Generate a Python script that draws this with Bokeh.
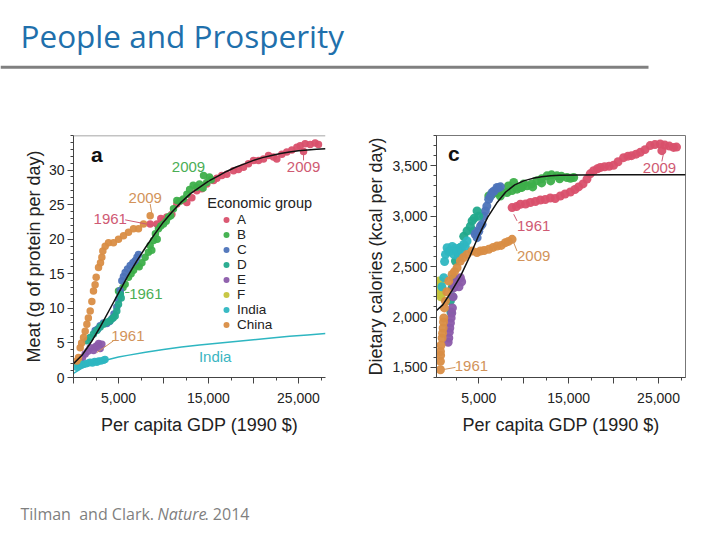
from bokeh.plotting import figure
from bokeh.layouts import column, row
from bokeh.models import Range1d, FixedTicker, Legend, LegendItem, NumeralTickFormatter, Span
from bokeh.core.properties import value
from bokeh.embed import file_html
from bokeh.resources import INLINE

FONT = "Liberation Sans"
TFONT = "Open Sans"

# ---------------- data ----------------
group_names = ["A", "B", "C", "D", "E", "F", "India", "China"]
group_colors = ["#D9506B", "#3DAF4A", "#4D73B9", "#22A98C", "#8B5BAA", "#C5C43C", "#2EB6C1", "#D98D44"]

x_ticks = [0, 5000, 10000, 15000, 20000, 25000]
x_minor = [2500, 7500, 12500, 17500, 22500, 27500]
x_tick_labels = ["", "5,000", "", "15,000", "", "25,000"]

# Panel a: meat (g of protein per day) vs GDP
meat_A_gdp = [9260, 10000, 10370, 10930, 11480, 12040, 12590, 13150, 13700, 14260, 14810, 15560, 15930, 16480,
              17040, 17780, 18330, 18890, 19440, 20000, 20560, 21110, 21670, 22220, 22590, 23150, 23700, 24260,
              24820, 25190, 25740, 26300, 26850, 27220, 25560, 8520, 9700]
meat_A_val = [22.2, 22.7, 23.2, 23.6, 25.1, 25.6, 25.3, 26.0, 27.0, 27.3, 28.0, 28.5, 28.8, 29.2,
              29.4, 29.9, 30.1, 30.4, 30.9, 31.4, 31.4, 31.6, 32.1, 31.9, 31.6, 32.3, 32.6, 32.9,
              33.3, 33.5, 33.8, 33.7, 33.9, 33.7, 32.7, 22.2, 23.0]
meat_B_gdp = [5000, 5200, 5500, 5740, 6110, 6400, 6670, 7040, 7300, 7600, 7960, 8330, 8520, 8890, 9100, 9440,
              9700, 10000, 10300, 10560, 10800, 11110, 11480, 11800, 12200, 12600, 12900, 13300, 13700, 14000,
              14400, 14800, 15100, 15300, 14450, 8700, 9300]
meat_B_val = [12.5, 12.2, 13.0, 13.5, 14.5, 15.0, 15.5, 16.2, 16.0, 16.6, 17.4, 18.1, 19.1, 19.8, 20.8, 21.5,
              21.9, 22.2, 22.6, 23.2, 23.4, 24.4, 25.6, 25.5, 25.8, 26.5, 27.2, 27.8, 27.5, 28.0,
              27.4, 28.2, 29.0, 28.6, 29.2, 18.4, 20.0]
meat_C_gdp = [2410, 2700, 2960, 3330, 3700, 4000, 4260, 4500, 4810, 5000, 5190, 5370, 5550, 5740, 6000, 6300,
              6600, 6850, 7050, 7220]
meat_C_val = [6.8, 7.0, 7.5, 7.9, 7.8, 8.1, 8.5, 9.2, 10.2, 11.3, 12.6, 14.0, 14.6, 15.2, 15.7, 16.2,
              16.6, 16.9, 17.4, 17.8]
meat_D_gdp = [1480, 1855, 2220, 2590, 2960, 3330, 3700, 4070, 4400, 4630, 4810, 5000, 5190, 5300]
meat_D_val = [5.3, 5.8, 6.3, 6.8, 7.3, 7.7, 8.0, 8.2, 8.6, 8.9, 9.6, 10.6, 12.0, 11.5]
meat_E_gdp = [740, 1000, 1300, 1600, 1850, 2220, 2400, 2590, 2800, 3150, 2960]
meat_E_val = [2.4, 2.9, 3.4, 3.8, 4.3, 3.9, 4.4, 4.6, 4.9, 4.8, 4.2]
meat_F_gdp = [450, 550, 650]
meat_F_val = [1.9, 2.1, 2.0]
meat_India_gdp = [370, 600, 900, 1110, 1400, 1650, 1850, 2100, 2350, 2590, 2800, 3050, 3330, 3500]
meat_India_val = [1.5, 1.7, 1.8, 1.9, 2.0, 2.1, 2.2, 2.1, 2.3, 2.2, 2.4, 2.4, 2.5, 2.6]
meat_China_gdp = [374, 559, 744, 900, 1115, 1300, 1485, 1650, 1855, 2040, 2220, 2400, 2520, 2780, 3000, 3150,
                  3260, 3520, 3890, 4445, 5000, 5560, 6110, 6670, 7220, 7780, 8520]
meat_China_val = [2.4, 2.9, 4.3, 5.0, 5.8, 6.7, 7.7, 8.6, 9.6, 11.0, 12.5, 13.4, 14.5, 15.9, 16.6, 17.4,
                  18.3, 19.0, 19.5, 19.5, 20.0, 20.5, 21.0, 21.5, 21.5, 22.2, 23.4]

meat_fit_gdp = [0, 1000, 2000, 3000, 4000, 5000, 6000, 7000, 8000, 9000, 10000, 11000, 12000, 13000, 14000,
                15000, 16000, 17000, 18000, 19000, 20000, 21000, 22000, 23000, 24000, 25000, 26000, 27000, 28000]
meat_fit_val = [2.0, 3.3, 5.2, 7.4, 9.8, 12.2, 14.6, 16.8, 18.8, 20.7, 22.5, 24.0, 25.4, 26.6, 27.5,
                28.4, 29.1, 29.8, 30.4, 30.9, 31.4, 31.8, 32.1, 32.4, 32.6, 32.8, 32.9, 33.0, 33.1]
india_fit_gdp = [0, 1000, 2000, 3000, 4000, 5000, 6000, 8000, 10000, 12000, 14000, 16000, 18000, 20000,
                 22000, 24000, 26000, 28000]
india_fit_val = [0.6, 1.4, 1.9, 2.3, 2.65, 2.95, 3.2, 3.65, 4.05, 4.4, 4.7, 4.95, 5.2, 5.45,
                 5.7, 5.95, 6.15, 6.35]

# Panel c: dietary calories (kcal per day) vs GDP
kcal_A_gdp = [8710, 9200, 9630, 10200, 10740, 11300, 11850, 12400, 12960, 13500, 14070, 14600, 15190, 15700,
              16110, 16600, 17040, 17400, 17780, 18200, 18520, 19000, 19500, 20000, 20500, 21110, 21600, 22000,
              22500, 22970, 23500, 24070, 24600, 25190, 25370, 25700, 26200, 26670, 27000]
kcal_A_val = [3085, 3095, 3118, 3120, 3135, 3145, 3160, 3165, 3180, 3175, 3200, 3220, 3240, 3265,
              3290, 3320, 3368, 3420, 3450, 3470, 3483, 3490, 3495, 3505, 3540, 3580, 3595, 3600,
              3615, 3633, 3660, 3700, 3710, 3716, 3650, 3705, 3695, 3682, 3685]
kcal_B_gdp = [6120, 6500, 7040, 7600, 8150, 8700, 9260, 9800, 10370, 10900, 11480, 12000, 12590, 13100, 13700,
              14200, 14810, 15200, 15560, 8890, 8300, 10000, 11000, 12000, 13000, 14000, 9630, 7400]
kcal_B_val = [3201, 3220, 3234, 3240, 3234, 3255, 3268, 3285, 3301, 3320, 3351, 3370, 3400, 3410, 3400,
              3395, 3384, 3375, 3384, 3334, 3300, 3320, 3290, 3330, 3350, 3370, 3284, 3200]
kcal_C_gdp = [4440, 4600, 4820, 5000, 5200, 5370, 5550, 5740, 5900, 6110, 6300, 6480, 6700, 7040, 7200, 7410]
kcal_C_val = [2853, 2820, 2787, 2850, 2900, 2920, 3000, 3052, 3100, 3168, 3200, 3234, 3250, 3284, 3280, 3291]
kcal_D_gdp = [1850, 2040, 2220, 2410, 2700, 2960, 3330, 3700, 4070, 4260, 4500, 4810, 5000, 1900, 2100]
kcal_D_val = [2160, 2290, 2390, 2555, 2620, 2690, 2800, 2853, 2900, 2953, 2980, 3052, 3000, 2050, 2200]
kcal_E_gdp = [1600, 1670, 1720, 1780, 1850, 1930, 2000, 2070, 2150, 2220, 2400, 2590, 2800, 2960, 3100]
kcal_E_val = [1750, 1792, 1850, 1891, 1940, 1991, 2040, 2090, 2200, 2289, 2330, 2356, 2300, 2389, 2350]
kcal_F_gdp = [600, 650, 700, 740, 780, 810, 850, 900]
kcal_F_val = [2356, 2300, 2250, 2289, 2200, 2223, 2350, 2280]
kcal_India_gdp = [900, 1110, 1200, 1300, 1480, 1650, 1850, 2050, 2220, 2400, 2590, 2800, 2960, 3150, 3330,
                  3500, 3700]
kcal_India_val = [2300, 2390, 2550, 2621, 2687, 2650, 2654, 2700, 2621, 2680, 2654, 2600, 2687, 2650, 2720,
                  2700, 2754]
kcal_China_gdp = [740, 740, 760, 740, 800, 925, 980, 1040, 1080, 1110, 1180, 1300, 1450, 1670, 2040, 2300,
                  2590, 2960, 3300, 3700, 4260, 4800, 5190, 5600, 6110, 6600, 7040, 7500, 7960, 8300, 8710]
kcal_China_val = [1477, 1560, 1620, 1659, 1720, 1792, 1840, 1891, 1950, 1991, 2090, 2157, 2250, 2356, 2422, 2450,
                  2488, 2555, 2590, 2621, 2654, 2640, 2654, 2660, 2671, 2690, 2704, 2710, 2737, 2750, 2770]

kcal_fit_gdp = [0, 1000, 2000, 3000, 4000, 5000, 6000, 7000, 8000, 9000, 10000, 11000, 12000, 13000, 14000,
                16000, 20000, 28000]
kcal_fit_val = [2040, 2120, 2260, 2410, 2600, 2810, 2990, 3130, 3240, 3310, 3350, 3375, 3390, 3400, 3405,
                3408, 3410, 3410]

meat_groups = [
    (meat_A_gdp, meat_A_val), (meat_B_gdp, meat_B_val), (meat_C_gdp, meat_C_val), (meat_D_gdp, meat_D_val),
    (meat_E_gdp, meat_E_val), (meat_F_gdp, meat_F_val), (meat_India_gdp, meat_India_val),
    (meat_China_gdp, meat_China_val)]
kcal_groups = [
    (kcal_A_gdp, kcal_A_val), (kcal_B_gdp, kcal_B_val), (kcal_C_gdp, kcal_C_val), (kcal_D_gdp, kcal_D_val),
    (kcal_E_gdp, kcal_E_val), (kcal_F_gdp, kcal_F_val), (kcal_India_gdp, kcal_India_val),
    (kcal_China_gdp, kcal_China_val)]

RED_T = "#CF5A73"
GREEN_T = "#4BAE55"
ORANGE_T = "#D2935A"
CYAN_T = "#3BB5C2"


def style_axes(p):
    for ax in p.xaxis + p.yaxis:
        ax.axis_line_color = "#444444"
        ax.major_tick_line_color = "#444444"
        ax.minor_tick_line_color = "#444444"
        ax.major_tick_in = 0
        ax.major_tick_out = 6
        ax.minor_tick_in = 0
        ax.minor_tick_out = 3
        ax.major_label_text_font = FONT
        ax.major_label_text_font_size = "14px"
        ax.major_label_text_color = "#222222"
        ax.axis_label_text_font = FONT
        ax.axis_label_text_font_size = "18px"
        ax.axis_label_text_font_style = "normal"
        ax.axis_label_text_color = "#222222"
    p.xaxis.ticker = FixedTicker(ticks=x_ticks, minor_ticks=x_minor)
    p.xaxis.major_label_overrides = {t: l for t, l in zip(x_ticks, x_tick_labels)}
    p.xaxis.major_label_standoff = 9
    p.xaxis.axis_label_standoff = 9
    p.xaxis.axis_label = "Per capita GDP (1990 $)"
    p.grid.visible = False


def add_text(p, x, y, txt, color, size="15px", align="center", style="normal"):
    p.text(x=[x], y=[y], text=[txt], text_color=color, text_font=value(FONT), text_font_size=size,
           text_align=align, text_baseline="middle", text_font_style=style)


# ---------------- header ----------------
hdr = figure(width=720, height=128, x_range=Range1d(0, 720), y_range=Range1d(128, 0),
             x_axis_type=None, y_axis_type=None, toolbar_location=None, output_backend="svg", min_border=0)
hdr.grid.visible = False
hdr.outline_line_color = None
hdr.text(x=[20], y=[35], text=["People and Prosperity"], text_color="#1F70AC", text_font=value(TFONT),
         text_font_size="31.5px", text_baseline="middle", text_align="left")
hdr.line(x=[0, 648], y=[66.7, 66.7], line_width=3, line_color="#808080")

# ---------------- panel a ----------------
pa = figure(width=360, height=317, x_range=Range1d(0, 28000), y_range=Range1d(0, 35),
            toolbar_location=None, output_backend="svg",
            min_border_left=73, min_border_right=35, min_border_top=7, min_border_bottom=68)
pa.outline_line_color = None
style_axes(pa)
pa.yaxis.ticker = FixedTicker(ticks=[0, 5, 10, 15, 20, 25, 30], minor_ticks=list(range(0, 36)))
pa.yaxis.axis_label = "Meat (g of protein per day)"
pa.yaxis.major_label_standoff = 3
pa.yaxis.axis_label_standoff = 2
pa.add_layout(Span(location=35, dimension="width", line_color="#888888", line_width=1.5))

renderers = []
for (gx, gy), col in zip(meat_groups, group_colors):
    r = pa.scatter(gx, gy, size=7.5, fill_color=col, line_color=None, fill_alpha=0.95)
    renderers.append(r)
pa.line(india_fit_gdp, india_fit_val, line_color="#2EB6C1", line_width=1.5)
pa.line(meat_fit_gdp, meat_fit_val, line_color="#111111", line_width=1.5)

legend = Legend(items=[LegendItem(label=n, renderers=[r]) for n, r in zip(group_names, renderers)],
                location=(144, 45), glyph_width=18, glyph_height=15, label_height=15, spacing=0,
                padding=0, margin=0, border_line_color=None, background_fill_alpha=0, label_standoff=2,
                label_text_font=FONT, label_text_font_size="13.5px", label_text_color="#222222")
pa.add_layout(legend)
add_text(pa, 14860, 25.3, "Economic group", "#222222", size="14.5px", align="left")

# annotations panel a
add_text(pa, 2600, 32.3, "a", "#111111", size="21px", style="bold")
add_text(pa, 12780, 30.4, "2009", GREEN_T)
pa.segment(x0=[14075], y0=[29.4], x1=[15000], y1=[28.5], line_color=GREEN_T, line_width=1)
add_text(pa, 25560, 30.4, "2009", RED_T)
pa.segment(x0=[25560], y0=[31.4], x1=[25560], y1=[32.6], line_color=RED_T, line_width=1)
add_text(pa, 7970, 26.0, "2009", ORANGE_T)
pa.segment(x0=[8520], y0=[25.1], x1=[8700], y1=[23.7], line_color=ORANGE_T, line_width=1)
add_text(pa, 4080, 22.9, "1961", RED_T)
pa.segment(x0=[5740], y0=[22.8], x1=[9260], y1=[21.9], line_color=RED_T, line_width=1)
add_text(pa, 8040, 12.06, "1961", GREEN_T)
pa.segment(x0=[5740], y0=[12.3], x1=[6220], y1=[12.3], line_color=GREEN_T, line_width=1)
add_text(pa, 6040, 6.03, "1961", ORANGE_T)
pa.segment(x0=[4440], y0=[5.3], x1=[2590], y1=[3.6], line_color=ORANGE_T, line_width=1)
add_text(pa, 15740, 3.0, "India", CYAN_T)

# ---------------- panel c ----------------
pc = figure(width=360, height=317, x_range=Range1d(300, 28000), y_range=Range1d(1400, 3800),
            toolbar_location=None, output_backend="svg",
            min_border_left=76, min_border_right=35, min_border_top=7, min_border_bottom=68)
pc.outline_line_color = "#777777"
style_axes(pc)
pc.yaxis.ticker = FixedTicker(ticks=[1500, 2000, 2500, 3000, 3500], minor_ticks=list(range(1400, 3801, 100)))
pc.yaxis.formatter = NumeralTickFormatter(format="0,0")
pc.yaxis.axis_label = "Dietary calories (kcal per day)"
pc.yaxis.major_label_standoff = 3
pc.yaxis.axis_label_standoff = 3

for (gx, gy), col in zip(kcal_groups, group_colors):
    pc.scatter(gx, gy, size=9, fill_color=col, line_color=None, fill_alpha=0.95)
pc.line(kcal_fit_gdp, kcal_fit_val, line_color="#111111", line_width=1.5)

add_text(pc, 2230, 3620, "c", "#111111", size="21px", style="bold")
add_text(pc, 25110, 3473, "2009", RED_T)
pc.segment(x0=[25370], y0=[3543], x1=[25560], y1=[3626], line_color=RED_T, line_width=1)
add_text(pc, 11110, 2903, "1961", RED_T)
pc.segment(x0=[9260], y0=[2953], x1=[8890], y1=[3019], line_color=RED_T, line_width=1)
add_text(pc, 11110, 2604, "2009", ORANGE_T)
pc.segment(x0=[9260], y0=[2654], x1=[8815], y1=[2754], line_color=ORANGE_T, line_width=1)
add_text(pc, 4185, 1510, "1961", ORANGE_T)
pc.segment(x0=[2410], y0=[1500], x1=[926], y1=[1477], line_color=ORANGE_T, line_width=1)

# ---------------- footer ----------------
ftr = figure(width=720, height=90, x_range=Range1d(0, 720), y_range=Range1d(535, 445),
             x_axis_type=None, y_axis_type=None, toolbar_location=None, output_backend="svg", min_border=0)
ftr.grid.visible = False
ftr.outline_line_color = None
for x0, txt, st in [(20, "Tilman\u00a0 and Clark.", "normal"), (157, "Nature", "italic"), (204, ". 2014", "normal")]:
    ftr.text(x=[x0], y=[513], text=[txt], text_color="#7F7F7F", text_font=value(TFONT),
             text_font_size="16px", text_baseline="middle", text_align="left", text_font_style=st)

layout = column(hdr, row(pa, pc), ftr)
open("out.html", "w").write(file_html(layout, INLINE))
